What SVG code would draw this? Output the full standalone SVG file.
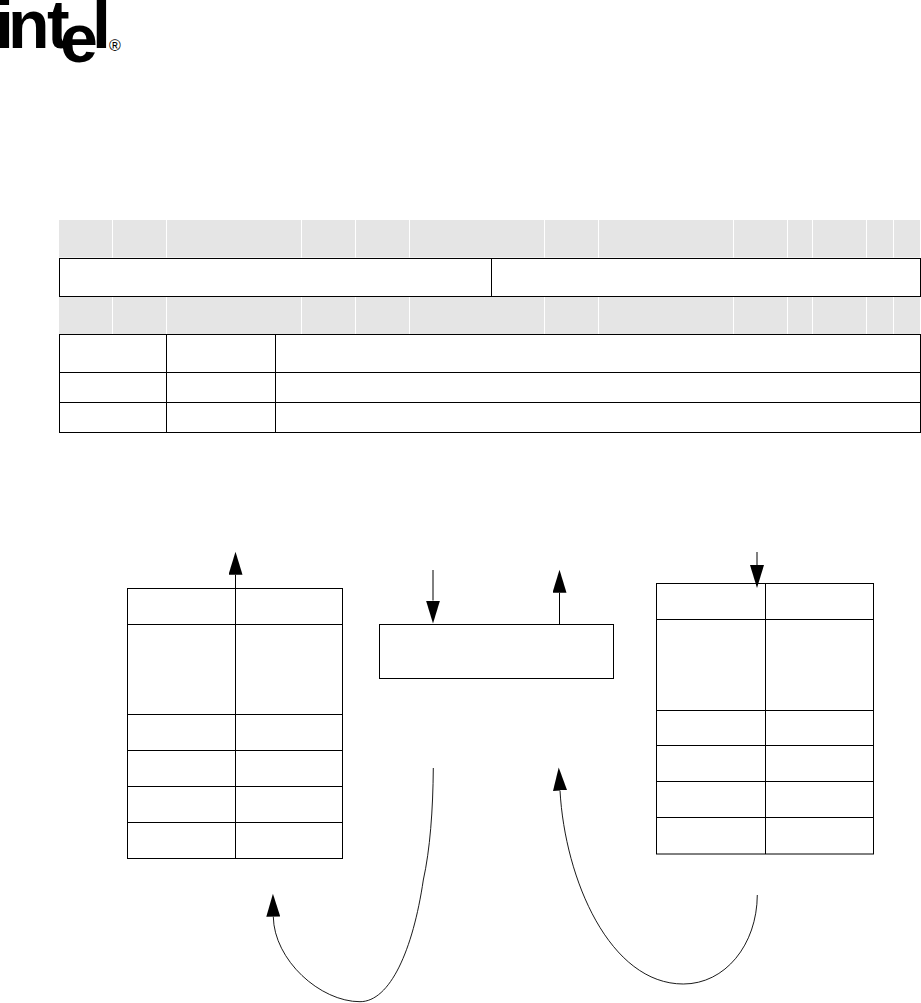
<svg xmlns="http://www.w3.org/2000/svg" width="921" height="1003" viewBox="0 0 921 1003">
<style>
.g{fill:#e5e5e5;stroke:none}
.c{fill:#fff;stroke:#000;stroke-width:1}
.l{fill:none;stroke:#000;stroke-width:1}
.a{fill:none;stroke:#000;stroke-width:.9}
.logo{font-family:"Liberation Sans",Arial,sans-serif;font-weight:700;fill:#000}
</style>
<defs>
<marker id="head" markerUnits="userSpaceOnUse" markerWidth="24" markerHeight="14" viewBox="0 0 24 14" refX="0" refY="7" orient="auto">
<path d="M0,0 L23,7 L0,14 Z" fill="#000"/>
</marker>
</defs>
<rect width="921" height="1003" fill="#fff"/>
<g id="logo">
<text class="logo" font-size="68" x="-5" y="48">i</text>
<text class="logo" font-size="68" x="8" y="48">n</text>
<text class="logo" font-size="68" x="47" y="48">t</text>
<text class="logo" font-size="68" x="60" y="62">e</text>
<text class="logo" font-size="68" x="92" y="48">l</text>
<text x="109" y="51" font-size="16" font-family="'Liberation Sans',Arial,sans-serif" fill="#000">®</text>
</g>
<g id="bit-header-high">
<rect class="g" x="59" y="220" width="53" height="37.5"/>
<rect class="g" x="113" y="220" width="53" height="37.5"/>
<rect class="g" x="167" y="220" width="134" height="37.5"/>
<rect class="g" x="302" y="220" width="53" height="37.5"/>
<rect class="g" x="356" y="220" width="53" height="37.5"/>
<rect class="g" x="410" y="220" width="134" height="37.5"/>
<rect class="g" x="545" y="220" width="53" height="37.5"/>
<rect class="g" x="599" y="220" width="134" height="37.5"/>
<rect class="g" x="734" y="220" width="53" height="37.5"/>
<rect class="g" x="788" y="220" width="24" height="37.5"/>
<rect class="g" x="813" y="220" width="53" height="37.5"/>
<rect class="g" x="867" y="220" width="26" height="37.5"/>
<rect class="g" x="894" y="220" width="26" height="37.5"/>
</g>
<g id="register-row">
<rect class="c" x="59.5" y="258.5" width="432" height="38"/>
<rect class="c" x="491.5" y="258.5" width="429" height="38"/>
</g>
<g id="bit-header-low">
<rect class="g" x="59" y="297" width="53" height="37"/>
<rect class="g" x="113" y="297" width="53" height="37"/>
<rect class="g" x="167" y="297" width="134" height="37"/>
<rect class="g" x="302" y="297" width="53" height="37"/>
<rect class="g" x="356" y="297" width="53" height="37"/>
<rect class="g" x="410" y="297" width="134" height="37"/>
<rect class="g" x="545" y="297" width="53" height="37"/>
<rect class="g" x="599" y="297" width="134" height="37"/>
<rect class="g" x="734" y="297" width="53" height="37"/>
<rect class="g" x="788" y="297" width="24" height="37"/>
<rect class="g" x="813" y="297" width="53" height="37"/>
<rect class="g" x="867" y="297" width="26" height="37"/>
<rect class="g" x="894" y="297" width="26" height="37"/>
</g>
<g id="field-table">
<rect class="c" x="59.5" y="334.5" width="861" height="98"/>
<path class="l" d="M59.5 372.5H920.5M59.5 402.5H920.5M166.5 334.5V432.5M275.5 334.5V432.5"/>
</g>
<g id="left-table">
<rect class="c" x="127.5" y="588.5" width="215" height="270"/>
<path class="l" d="M127.5 624.5H342.5M127.5 714.5H342.5M127.5 750.5H342.5M127.5 786.5H342.5M127.5 822.5H342.5M235.5 588.5V858.5"/>
</g>
<g id="center-box">
<rect class="c" x="379.5" y="624.5" width="234" height="54"/>
</g>
<g id="right-table">
<rect class="c" x="656.5" y="583.5" width="217" height="270.5"/>
<path class="l" d="M656.5 619.5H873.5M656.5 710.5H873.5M656.5 745.5H873.5M656.5 781.5H873.5M656.5 817.5H873.5M765.5 583.5V854"/>
</g>
<g id="connectors">
<path class="l" d="M235.5 588.5V574.7" marker-end="url(#head)"/>
<path class="l" d="M433 570V600.5" marker-end="url(#head)"/>
<path class="l" d="M559.5 624.5V592.7" marker-end="url(#head)"/>
<path class="l" d="M757 552V565" marker-end="url(#head)"/>
<path class="a" d="M433.3 768C433 810 430 850 423.3 880C413 950 390 1001.7 360 1001.7C320 1001.7 274 960 273.3 916.7" marker-end="url(#head)"/>
<path class="a" d="M757.3 895C757 945 725 984 683.3 984C610 984 565 880 560 790.5" marker-end="url(#head)"/>
</g>
</svg>
